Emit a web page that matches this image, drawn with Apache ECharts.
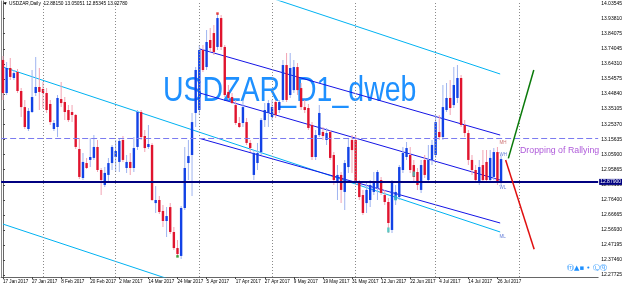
<!DOCTYPE html>
<html><head><meta charset="utf-8">
<script src="https://cdn.jsdelivr.net/npm/echarts@6/dist/echarts.min.js"></script>
<style>html,body{margin:0;padding:0;background:#fff}#c{width:625px;height:288px}</style>
</head><body><div id="c"></div>
<script>
// ---- categories (trading days) ----
const dates = ["2017.01.17","2017.01.18","2017.01.19","2017.01.20","2017.01.23","2017.01.24","2017.01.25","2017.01.26","2017.01.27","2017.01.30","2017.01.31",
"2017.02.01","2017.02.02","2017.02.03","2017.02.06","2017.02.07","2017.02.08","2017.02.09","2017.02.10","2017.02.13","2017.02.14","2017.02.15","2017.02.16","2017.02.17","2017.02.20","2017.02.21","2017.02.22","2017.02.23","2017.02.24","2017.02.27","2017.02.28",
"2017.03.01","2017.03.02","2017.03.03","2017.03.06","2017.03.07","2017.03.08","2017.03.09","2017.03.10","2017.03.13","2017.03.14","2017.03.15","2017.03.16","2017.03.17","2017.03.20","2017.03.21","2017.03.22","2017.03.23","2017.03.24","2017.03.27","2017.03.28","2017.03.29","2017.03.30","2017.03.31",
"2017.04.03","2017.04.04","2017.04.05","2017.04.06","2017.04.07","2017.04.10","2017.04.11","2017.04.12","2017.04.13","2017.04.14","2017.04.17","2017.04.18","2017.04.19","2017.04.20","2017.04.21","2017.04.24","2017.04.25","2017.04.26","2017.04.27","2017.04.28",
"2017.05.01","2017.05.02","2017.05.03","2017.05.04","2017.05.05","2017.05.08","2017.05.09","2017.05.10","2017.05.11","2017.05.12","2017.05.15","2017.05.16","2017.05.17","2017.05.18","2017.05.19","2017.05.22","2017.05.23","2017.05.24","2017.05.25","2017.05.26","2017.05.29","2017.05.30","2017.05.31",
"2017.06.01","2017.06.02","2017.06.05","2017.06.06","2017.06.07","2017.06.08","2017.06.09","2017.06.12","2017.06.13","2017.06.14","2017.06.15","2017.06.16","2017.06.19","2017.06.20","2017.06.21","2017.06.22","2017.06.23","2017.06.26","2017.06.27","2017.06.28","2017.06.29","2017.06.30",
"2017.07.03","2017.07.04","2017.07.05","2017.07.06","2017.07.07","2017.07.10","2017.07.11","2017.07.12","2017.07.13","2017.07.14","2017.07.17","2017.07.18","2017.07.19","2017.07.20","2017.07.21","2017.07.24","2017.07.25","2017.07.26","2017.07.27"];

// ---- OHLC series ----
const openP = [13.669,13.455,13.617,13.552,13.591,13.468,13.364,13.222,13.332,13.455,13.494,13.481,13.455,13.384,13.222,13.235,13.416,13.397,13.345,13.332,
13.313,13.093,12.905,13.002,13.022,13.035,13.106,12.957,12.860,12.925,13.002,13.041,13.009,13.151,12.970,13.009,12.970,13.106,13.332,13.177,
13.106,13.119,12.743,12.763,12.692,12.627,12.717,12.556,12.452,12.401,12.711,13.002,13.054,13.326,13.345,13.733,13.623,13.798,13.843,13.753,
13.940,13.753,13.462,13.429,13.377,13.261,13.261,13.267,13.132,12.925,13.002,13.073,13.280,13.326,13.300,13.397,13.345,13.410,13.636,13.442,
13.474,13.623,13.487,13.364,13.358,13.248,13.041,13.183,13.203,13.151,13.203,13.054,12.879,12.925,12.815,12.976,13.151,13.151,12.873,12.795,
12.743,12.763,12.815,12.840,12.892,12.795,12.750,12.569,12.763,12.782,12.957,13.041,13.054,12.989,12.944,12.828,13.022,12.892,13.022,13.054,
13.203,13.170,13.345,13.423,13.377,13.423,13.552,13.248,13.196,13.022,12.957,12.879,12.989,13.009,12.892,12.912,13.073,12.8815];
const highP = [13.694,13.656,13.682,13.604,13.610,13.487,13.410,13.358,13.604,13.688,13.617,13.526,13.487,13.410,13.280,13.442,13.526,13.429,13.377,13.377,
13.319,13.164,13.067,13.035,13.164,13.183,13.151,12.970,12.976,13.035,13.119,13.151,13.164,13.177,13.054,13.067,13.170,13.345,13.345,13.216,
13.248,13.132,12.853,12.789,12.730,12.717,12.743,12.588,12.504,12.724,13.106,13.151,13.326,13.623,13.766,13.766,13.863,13.876,13.895,13.966,
13.960,13.766,13.507,13.455,13.410,13.300,13.410,13.293,13.151,13.086,13.132,13.293,13.390,13.410,13.410,13.410,13.410,13.669,13.714,13.714,
13.669,13.649,13.520,13.410,13.384,13.267,13.216,13.377,13.235,13.229,13.216,13.073,12.989,12.944,13.022,13.164,13.183,13.183,12.892,12.828,
12.873,12.892,12.944,12.957,12.912,12.828,12.776,12.892,12.860,12.989,13.106,13.138,13.106,13.022,12.970,13.022,13.054,13.119,13.151,13.313,
13.313,13.507,13.520,13.539,13.623,13.636,13.572,13.280,13.216,13.054,12.989,13.022,13.086,13.086,13.086,13.099,13.106,13.0505];
const lowP = [13.410,13.442,13.539,13.539,13.455,13.300,13.222,13.209,13.326,13.436,13.345,13.358,13.326,13.248,13.209,13.170,13.364,13.280,13.267,13.267,
13.093,12.899,12.892,12.963,12.976,13.022,12.944,12.795,12.847,12.873,12.957,12.944,12.944,13.009,12.938,12.925,12.944,13.086,13.151,13.073,
13.093,12.756,12.679,12.672,12.588,12.523,12.543,12.439,12.401,12.381,12.698,12.892,12.789,13.235,13.313,13.591,13.604,13.720,13.701,13.733,
13.733,13.429,13.410,13.384,13.248,13.229,13.235,13.119,13.073,12.892,12.957,13.054,13.235,13.235,13.280,13.293,13.326,13.397,13.397,13.423,
13.455,13.442,13.345,13.326,13.216,13.022,13.022,13.170,13.151,13.119,13.022,12.860,12.763,12.743,12.698,12.938,12.938,12.860,12.763,12.666,
12.679,12.717,12.795,12.763,12.795,12.730,12.549,12.549,12.730,12.763,12.938,13.022,12.938,12.879,12.828,12.808,12.905,12.873,12.989,13.035,
13.151,13.151,13.332,13.313,13.358,13.390,13.235,13.170,12.989,12.925,12.879,12.860,12.879,12.873,12.873,12.892,12.860,12.85345];
const closeP = [13.455,13.617,13.559,13.584,13.468,13.364,13.235,13.339,13.429,13.494,13.462,13.455,13.345,13.267,13.261,13.423,13.390,13.332,13.280,13.313,
13.106,12.912,13.009,12.970,13.041,13.106,12.957,12.892,12.938,13.002,13.106,13.080,13.145,13.022,13.009,12.970,13.099,13.332,13.170,13.099,
13.125,12.763,12.763,12.685,12.627,12.659,12.556,12.452,12.413,12.711,12.970,13.047,13.267,13.604,13.733,13.604,13.785,13.746,13.720,13.940,
13.753,13.442,13.423,13.390,13.261,13.235,13.364,13.132,13.099,13.067,13.067,13.280,13.345,13.390,13.364,13.313,13.397,13.636,13.410,13.617,
13.623,13.474,13.364,13.345,13.229,13.041,13.183,13.326,13.177,13.196,13.035,12.892,12.925,12.828,13.002,13.106,13.086,12.873,12.782,12.679,
12.828,12.860,12.879,12.944,12.808,12.750,12.614,12.873,12.815,12.976,13.067,13.099,12.957,12.912,12.860,12.989,12.925,13.022,13.119,13.267,
13.170,13.364,13.423,13.358,13.507,13.552,13.248,13.196,13.022,12.957,12.892,12.976,12.892,12.892,13.035,13.073,12.873,13.0278];

// ---- axes ----
const yTickValues = [14.03545,13.93810,13.84075,13.74045,13.64310,13.54575,13.44840,13.35105,13.25370,13.15635,13.05900,12.95865,12.86130,12.76400,12.66665,12.56930,12.47195,12.37460,12.27725];
const yTickLabels = ["14.03545","13.93810","13.84075","13.74045","13.64310","13.54575","13.44840","13.35105","13.25370","13.15635","13.05900","12.95865","12.86130","12.76400","12.66665","12.56930","12.47195","12.37460","12.27725"];
const xTickIndex = [0,8,16,24,32,40,48,56,64,72,80,88,96,104,112,120,128,136];
const xTickLabels = ["17 Jan 2017","27 Jan 2017","8 Feb 2017","20 Feb 2017","2 Mar 2017","14 Mar 2017","24 Mar 2017","5 Apr 2017","17 Apr 2017","27 Apr 2017","9 May 2017","19 May 2017","31 May 2017","12 Jun 2017","22 Jun 2017","4 Jul 2017","14 Jul 2017","26 Jul 2017"];
const monthSeparators = [11,31,54,74,97,119,142];

// ---- drawn objects (bar index, price) ----
const cyanMid   = [[0,13.623],[136.75,12.556]];
const cyanLow   = [[0,12.607],[136.75,11.540]];
const cyanHigh  = [[0,14.646],[136.75,13.578]];
const blueHigh  = [[54.15,13.740],[136.75,13.183]];
const blueMid   = [[54.15,13.455],[136.75,12.892]];
const blueLow   = [[54.15,13.161],[136.75,12.614]];
const greenProj = [[139.0,13.032],[146.0,13.604]];
const redProj   = [[138.25,13.022],[146.1,12.444]];
const dashedLevel = 13.1575;
const navyLevel = 12.879;
const navyLabel = "12.87900";
const lastClose = 13.0278;
const lastCloseLabel = "13.02780";
const noteText = ["Dropping of Rallying"];
const notePos = [[142.2,13.080]];
const tagText = ["MH","WH","WL","ML"];
const tagPos = [[136.6,13.132],[136.6,13.054],[136.6,12.840],[136.6,12.523]];
const tagColor = ["#c05050","#4060d0","#4060d0","#4060d0"];
const tealMarks = [[106,12.569],[108,12.776],[113,12.931]];
const greenMarks = [[48,12.398]];
const redMarks = [[59,13.969]];
const headerText = "\u25BC USDZAR,Daily  12.88150 13.05051 12.85345 13.02780";
const watermarkText = "USDZAR_D1_dweb";

const candleData = openP.map((o,i)=>[i,o,closeP[i],lowP[i],highP[i]]);
const YMIN = 12.2647, YMAX = 14.0503;

const chart = echarts.init(document.getElementById('c'), null, {renderer:'canvas'});
const font = '"Liberation Sans", Arial, sans-serif';

function seg(data,color,width,z){
  return {type:'line', data:data, xAxisIndex:0, yAxisIndex:0, symbol:'none', silent:true,
    lineStyle:{color:color,width:width}, clip:true, z:z||3, animation:false};
}
function marks(data,color,size){
  return {type:'scatter', data:data, xAxisIndex:0, yAxisIndex:0, symbol:'rect', symbolSize:size, silent:true, z:5,
    itemStyle:{color:color}, animation:false};
}

chart.setOption({
  animation:false,
  backgroundColor:'#ffffff',
  grid:{left:1, right:21, top:1, bottom:11, containLabel:false},
  xAxis:[{type:'value', min:-0.5, max:163.7, splitLine:{show:false},
    axisLine:{show:true, onZero:false, lineStyle:{color:'#666', width:1}},
    axisTick:{show:true, length:2, customValues:xTickIndex, lineStyle:{color:'#444'}},
    axisLabel:{show:true, customValues:xTickIndex, align:'left', margin:2, fontSize:4.6, fontFamily:font, color:'#000',
      formatter:(v)=>{const i=xTickIndex.indexOf(Math.round(v)); return i>=0?xTickLabels[i]:'';}}
  }],
  yAxis:[{type:'value', position:'right', min:YMIN, max:YMAX, splitLine:{show:false},
      axisLine:{show:true, lineStyle:{color:'#666', width:1}},
      axisTick:{show:true, length:2, customValues:yTickValues, lineStyle:{color:'#444'}},
      axisLabel:{show:true, customValues:yTickValues, margin:3, fontSize:5, fontFamily:font, color:'#000',
        formatter:(v)=>{let b=0,bd=1e9; yTickValues.forEach((t,i)=>{const d=Math.abs(t-v); if(d<bd){bd=d;b=i;}}); return yTickLabels[b];}}},
    {type:'value', position:'left', min:YMIN, max:YMAX, splitLine:{show:false},
      axisLine:{show:true, lineStyle:{color:'#888', width:1}}, axisTick:{show:false}, axisLabel:{show:false}}
  ],
  graphic:[
    {type:'text', x:163, y:74, scaleY:1.2, z:0, silent:true,
      style:{text:watermarkText, font:'28.5px "Liberation Sans", Arial', fill:'#1E90FF', textVerticalAlign:'top'}},
    {type:'text', x:3, y:1.5, z:10, silent:true,
      style:{text:headerText, font:'4.8px "Liberation Sans", Arial', fill:'#000', textVerticalAlign:'top'}},
    {type:'text', x:567, y:265, z:10, silent:true,
      style:{text:'\u24DC\u25B2\u25AA \u2022 \u24C1\u24E0', font:'7px "DejaVu Sans"', fill:'#1E90FF', textVerticalAlign:'top'}}
  ],
  series:[
    {type:'line', data:[], xAxisIndex:0, yAxisIndex:0, silent:true, z:1,
      markLine:{silent:true, symbol:'none', animation:false,
        data: monthSeparators.map(v=>({xAxis:v, lineStyle:{color:'#8a8a8a', type:[1,2], width:1}, label:{show:false}}))
          .concat([
            {yAxis:dashedLevel, lineStyle:{color:'#7b7bf0', type:[6,3], width:1}, label:{show:false}},
            {yAxis:navyLevel, lineStyle:{color:'#000080', type:'solid', width:2.2},
              label:{show:true, position:'end', distance:1, formatter:navyLabel, backgroundColor:'#000080', color:'#fff', fontSize:5, fontFamily:font, padding:[1,1,0,1]}},
            {yAxis:lastClose, lineStyle:{color:'#000', opacity:0, width:0},
              label:{show:true, position:'end', distance:1, formatter:lastCloseLabel, backgroundColor:'#000', color:'#fff', fontSize:5, fontFamily:font, padding:[1,1,0,1]}}
          ])
      }},
    seg(cyanHigh,'#00b2f2',1), seg(cyanMid,'#00b2f2',1), seg(cyanLow,'#00b2f2',1),
    seg(blueHigh,'#1414e6',1), seg(blueMid,'#1414e6',1), seg(blueLow,'#1414e6',1),
    {type:'custom', xAxisIndex:0, yAxisIndex:0, z:4, silent:true, animation:false,
      encode:{x:0, y:[1,2,3,4]},
      data:candleData,
      renderItem:function(params, api){
        const x=api.value(0), o=api.value(1), c=api.value(2), l=api.value(3), h=api.value(4);
        const pH=api.coord([x,h]), pL=api.coord([x,l]), pO=api.coord([x,o]), pC=api.coord([x,c]);
        const bull=c>=o;
        const cx=pH[0];
        const top=Math.min(pO[1],pC[1]);
        const hh=Math.max(Math.abs(pO[1]-pC[1]),1);
        return {type:'group', children:[
          {type:'rect', shape:{x:cx-0.5, y:pH[1], width:1, height:pL[1]-pH[1]}, style:{fill: bull?'#9fb4f0':'#f2a3b3'}},
          {type:'rect', shape:{x:cx-1.2, y:top, width:2.4, height:hh}, style:{fill: bull?'#1242e6':'#e0142e'}}
        ]};
      }},
    marks(tealMarks,'#3cc8c0',[2.5,5]), marks(greenMarks,'#0a8a0a',[2.5,2.5]), marks(redMarks,'#e01010',[2.5,2.5]),
    seg(greenProj,'#0a7a0a',1.5,6), seg(redProj,'#e01010',1.5,6),
    {type:'scatter', xAxisIndex:0, yAxisIndex:0, symbolSize:0, silent:true, z:7,
      data:notePos.map((p,i)=>({value:p, name:noteText[i]})),
      label:{show:true, position:'inside', align:'left', formatter:'{b}', color:'#9a2fd0', fontSize:8.8, fontFamily:font}},
    {type:'scatter', xAxisIndex:0, yAxisIndex:0, symbolSize:0, silent:true, z:7,
      data:tagPos.map((p,i)=>({value:p, name:tagText[i], label:{color:tagColor[i]}})),
      label:{show:true, position:'inside', align:'left', formatter:'{b}', fontSize:4.5, fontFamily:font}}
  ]
});
</script>
</body></html>
